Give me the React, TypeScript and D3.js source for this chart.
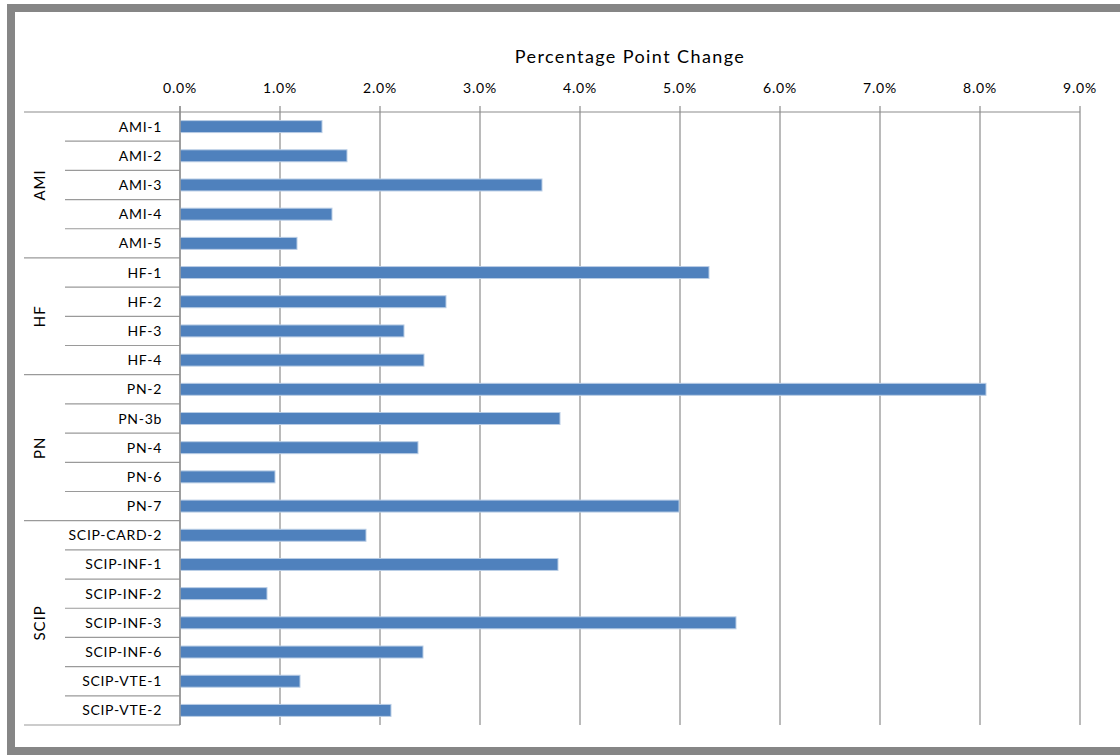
import React, { useEffect, useRef } from 'react';
import * as d3 from 'd3';

const groups = ['AMI', 'HF', 'PN', 'SCIP'];
const measures = [
  ['AMI-1', 'AMI-2', 'AMI-3', 'AMI-4', 'AMI-5'],
  ['HF-1', 'HF-2', 'HF-3', 'HF-4'],
  ['PN-2', 'PN-3b', 'PN-4', 'PN-6', 'PN-7'],
  ['SCIP-CARD-2', 'SCIP-INF-1', 'SCIP-INF-2', 'SCIP-INF-3', 'SCIP-INF-6', 'SCIP-VTE-1', 'SCIP-VTE-2'],
];
// percentage point change, in %
const changes = [
  [1.42, 1.67, 3.62, 1.52, 1.17],
  [5.29, 2.66, 2.24, 2.44],
  [8.06, 3.8, 2.38, 0.95, 4.99],
  [1.86, 3.78, 0.87, 5.56, 2.43, 1.2, 2.11],
];
const ticks = [0, 1, 2, 3, 4, 5, 6, 7, 8, 9];

const W = 1120;
const H = 755;
const font = 'Lato, "Open Sans", sans-serif';

export default function App() {
  const svgRef = useRef<SVGSVGElement>(null);

  useEffect(() => {
    const svg = d3.select(svgRef.current);
    svg.selectAll('*').remove();

    const rows = measures.flatMap((m, gi) => m.map((name, i) => ({ name, group: groups[gi], v: changes[gi][i], first: i === 0 })));

    const x = d3.scaleLinear().domain([0, 9]).range([180, 1080]);
    const y = d3.scaleBand().domain(rows.map(r => r.name)).range([112, 725]).paddingInner(0.59).paddingOuter(0.295);
    const step = y.step();
    const top = 112, bottom = 725;

    // frame
    svg.append('rect').attr('x', 11).attr('y', 8).attr('width', W + 20).attr('height', 743)
      .attr('fill', '#fff').attr('stroke', '#868686').attr('stroke-width', 8);

    // title
    svg.append('text').attr('x', x(4.5)).attr('y', 63).attr('text-anchor', 'middle')
      .style('font-family', font).style('font-size', '18px').style('letter-spacing', '1.4px').attr('fill', '#000')
      .text('Percentage Point Change');

    // gridlines + ticks
    svg.selectAll('.grid').data(ticks).enter().append('line')
      .attr('x1', d => x(d)).attr('x2', d => x(d))
      .attr('y1', top - 6).attr('y2', bottom)
      .attr('stroke', '#8c8c8c').attr('stroke-width', 1.2);

    svg.selectAll('.tl').data(ticks).enter().append('text')
      .attr('x', d => x(d)).attr('y', 93).attr('text-anchor', 'middle')
      .style('font-family', font).style('font-size', '14px').style('letter-spacing', '0.8px').attr('fill', '#000')
      .text(d => d3.format('.1f')(d) + '%');

    // top axis line
    svg.append('line').attr('x1', 24).attr('x2', x(9)).attr('y1', top).attr('y2', top)
      .attr('stroke', '#8c8c8c').attr('stroke-width', 1.2);

    // row separators
    rows.forEach((r, i) => {
      const yy = top + step * (i + 1);
      const nextFirst = i === rows.length - 1 || rows[i + 1].first;
      svg.append('line').attr('x1', nextFirst ? 24 : 65).attr('x2', x(0))
        .attr('y1', yy).attr('y2', yy).attr('stroke', '#9a9a9a').attr('stroke-width', 1.2);
    });

    // bars
    svg.selectAll('.bar').data(rows).enter().append('rect')
      .attr('x', x(0)).attr('y', d => y(d.name)!)
      .attr('width', d => x(d.v) - x(0)).attr('height', y.bandwidth())
      .attr('fill', '#4f81bd').attr('stroke', '#b9cde5').attr('stroke-width', 1);

    // category labels
    svg.selectAll('.cl').data(rows).enter().append('text')
      .attr('x', 162).attr('y', d => y(d.name)! + y.bandwidth() / 2 + 5)
      .attr('text-anchor', 'end')
      .style('font-family', font).style('font-size', '14px').style('letter-spacing', '0.7px').attr('fill', '#000')
      .text(d => d.name);

    // group labels
    let start = 0;
    measures.forEach((m, gi) => {
      const cy = top + step * (start + m.length / 2);
      svg.append('text').attr('transform', `translate(45,${cy}) rotate(-90)`)
        .attr('text-anchor', 'middle')
        .style('font-family', font).style('font-size', '15px').style('letter-spacing', '1px').attr('fill', '#000')
        .text(groups[gi]);
      start += m.length;
    });

    // y axis line
    svg.append('line').attr('x1', x(0)).attr('x2', x(0)).attr('y1', top - 6).attr('y2', bottom)
      .attr('stroke', '#8c8c8c').attr('stroke-width', 1.2);
  }, []);

  return (
    <svg ref={svgRef} width={W} height={H} style={{ position: 'absolute', left: 0, top: 0, background: '#fff' }} />
  );
}
